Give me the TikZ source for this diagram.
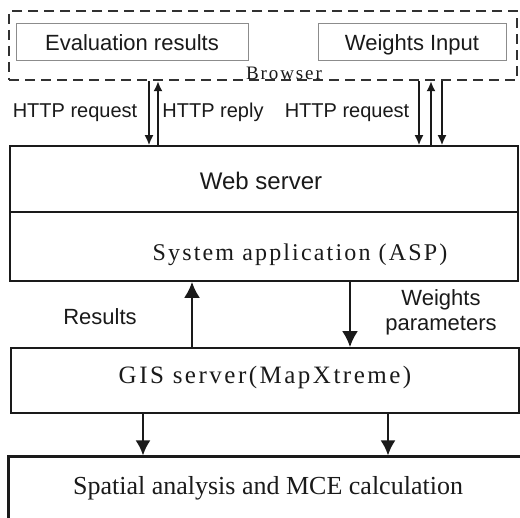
\documentclass[tikz,border=0pt]{standalone}
\usepackage{fontspec}
\setmainfont{Liberation Sans}
\newfontfamily\tnr{Liberation Serif}
\newfontfamily\tnrls[LetterSpace=9]{Liberation Serif}
\newfontfamily\tnrlsb[LetterSpace=10]{Liberation Serif}
\usetikzlibrary{arrows.meta}
\definecolor{ink}{HTML}{1A1A1A}
\definecolor{greyline}{HTML}{8C8C8C}
\begin{document}
\begin{tikzpicture}[x=1pt,y=-1pt,
  box/.style={draw=ink,line width=1.6pt,inner sep=0pt,fill=none},
  thinbox/.style={draw=greyline,line width=1pt,inner sep=0pt},
  dashbox/.style={draw=ink!90,line width=2.4pt,dash pattern=on 10pt off 6pt,inner sep=0pt},
  txt/.style={inner sep=0pt,anchor=base,text=ink},
  smallarrow/.style={draw=ink,line width=1.8pt,-{Latex[length=10pt,width=9pt]}},
  bigarrow/.style={draw=ink,line width=2.6pt,-{Latex[length=16pt,width=16pt]}},
  midarrow/.style={draw=ink,line width=2.4pt,-{Latex[length=15pt,width=15pt]}}]
\useasboundingbox (0,0) rectangle (520,518);
\clip (0,0) rectangle (520,518);
\fill[white] (0,0) rectangle (520,518);

% browser
\node[dashbox,minimum width=508pt,minimum height=69pt] (browser) at (263,45.5) {};
\node[thinbox,minimum width=232pt,minimum height=37pt] (eval) at (132,42.5) {};
\node[thinbox,minimum width=188pt,minimum height=37pt] (winput) at (412,42.5) {};
\node[txt,font=\fontsize{22}{26}\selectfont] (evalt) at (132,51) {Evaluation results};
\node[txt,font=\fontsize{22}{26}\selectfont] (winputt) at (412,51) {Weights Input};
\node[txt,font=\tnrlsb\fontsize{19}{22}\selectfont] (browsert) at (284,80) {Browser};

% web server + system application
\node[box,minimum width=508pt,minimum height=66pt] (web) at (264,179) {};
\node[box,minimum width=508pt,minimum height=69pt] (sys) at (264,246.5) {};
\node[txt,font=\fontsize{24}{28}\selectfont] (webt) at (261,190) {Web server};
\node[txt,font=\tnrls\fontsize{24}{28}\selectfont] (syst) at (300,261) {System application (ASP)};

% GIS server
\node[box,minimum width=508pt,minimum height=65pt] (gis) at (265,380.5) {};
\node[txt,font=\tnrlsb\fontsize{25}{28}\selectfont] (gist) at (265,384) {GIS server(MapXtreme)};

% spatial analysis
\node[draw=ink,line width=3pt,inner sep=0pt,minimum width=520pt,minimum height=80pt] (spat) at (268,497) {};
\node[txt,font=\tnr\fontsize{26}{30}\selectfont] (spatt) at (268,495) {Spatial analysis and MCE calculation};

% HTTP labels
\node[txt,font=\fontsize{20}{24}\selectfont] (req1) at (75,118) {HTTP request};
\node[txt,font=\fontsize{20}{24}\selectfont] (rep1) at (213,118) {HTTP reply};
\node[txt,font=\fontsize{20}{24}\selectfont] (req2) at (347,118) {HTTP request};

% middle labels
\node[txt,font=\fontsize{22}{26}\selectfont] (res) at (100,325) {Results};
\node[inner sep=0pt,align=center,text=ink,font=\fontsize{22}{25}\selectfont] (wpar) at (441,312) {Weights\\parameters};

% arrow x positions
\coordinate (xa) at (149,0);
\coordinate (xb) at (158,0);
\coordinate (xc) at (419,0);
\coordinate (xd) at (431,0);
\coordinate (xe) at (442,0);
\coordinate (xf) at (192,0);
\coordinate (xg) at (350,0);
\coordinate (xh) at (143,0);
\coordinate (xi) at (388,0);

% browser <-> web server
\draw[smallarrow] (browser.south -| xa) -- (web.north -| xa);
\draw[smallarrow] (web.north -| xb) -- (browser.south -| xb);
\draw[smallarrow] (browser.south -| xc) -- (web.north -| xc);
\draw[smallarrow] (web.north -| xd) -- (browser.south -| xd);
\draw[smallarrow] (browser.south -| xe) -- (web.north -| xe);

% system <-> gis
\draw[bigarrow] (gis.north -| xf) -- (sys.south -| xf);
\draw[bigarrow] (sys.south -| xg) -- (gis.north -| xg);

% gis -> spatial
\draw[midarrow] (gis.south -| xh) -- (spat.north -| xh);
\draw[midarrow] (gis.south -| xi) -- (spat.north -| xi);
\end{tikzpicture}
\end{document}
